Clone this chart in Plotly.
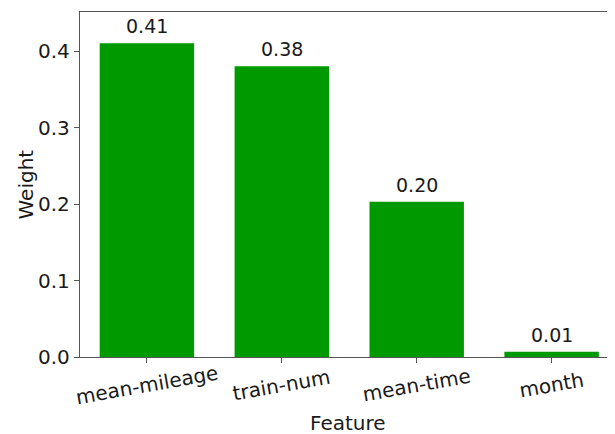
import plotly.graph_objects as go

features = ["mean-mileage", "train-num", "mean-time", "month"]
weights = [0.41, 0.38, 0.203, 0.007]
y_ticks = [0.0, 0.1, 0.2, 0.3, 0.4]
y_tick_labels = ["0.0", "0.1", "0.2", "0.3", "0.4"]

font_family = "DejaVu Sans"
txt = "#1a1a1a"
fig = go.Figure()
fig.add_trace(go.Bar(
    x=features, y=weights, width=0.7,
    marker=dict(color="#009900", line=dict(width=0)),
))

# value labels above bars
for f, w in zip(features, weights):
    fig.add_annotation(x=f, y=w, text=f"{w:.2f}", showarrow=False,
                       yanchor="bottom", yshift=4,
                       font=dict(family=font_family, size=19, color=txt))

# rotated category labels, centred on ticks
for f in features:
    fig.add_annotation(x=f, y=0, yref="paper", text=f, showarrow=False,
                       textangle=-10, yanchor="middle", xanchor="center",
                       yshift=-28,
                       font=dict(family=font_family, size=20, color=txt))

# axis titles
fig.add_annotation(x=0.5, y=0, xref="paper", yref="paper", text="Feature",
                   showarrow=False, yanchor="middle", yshift=-66,
                   font=dict(family=font_family, size=20, color=txt))
fig.add_annotation(x=0, y=0.5, xref="paper", yref="paper", text="Weight",
                   showarrow=False, textangle=-90, xanchor="center",
                   xshift=-55,
                   font=dict(family=font_family, size=20, color=txt))

# page body has an 8px default margin, so the figure is offset by 8px
fig.update_layout(
    width=607, height=426,
    margin=dict(l=72, r=0, t=4, b=77, autoexpand=False),
    plot_bgcolor="white", paper_bgcolor="white",
    showlegend=False,
    font=dict(family=font_family, size=20, color=txt),
    xaxis=dict(
        range=[-0.496, 3.47],
        showline=True, linecolor="#555", linewidth=1.3, mirror=True,
        ticks="outside", ticklen=5, tickcolor="#555",
        showticklabels=False,
        showgrid=False, zeroline=False, automargin=False,
    ),
    yaxis=dict(
        range=[0, 0.451],
        tickvals=y_ticks, ticktext=y_tick_labels,
        showline=True, linecolor="#555", linewidth=1.3, mirror=False,
        ticks="outside", ticklen=5, tickcolor="#555",
        tickfont=dict(size=20),
        showgrid=False, zeroline=False, automargin=False,
    ),
)

fig.write_html("out.html")
